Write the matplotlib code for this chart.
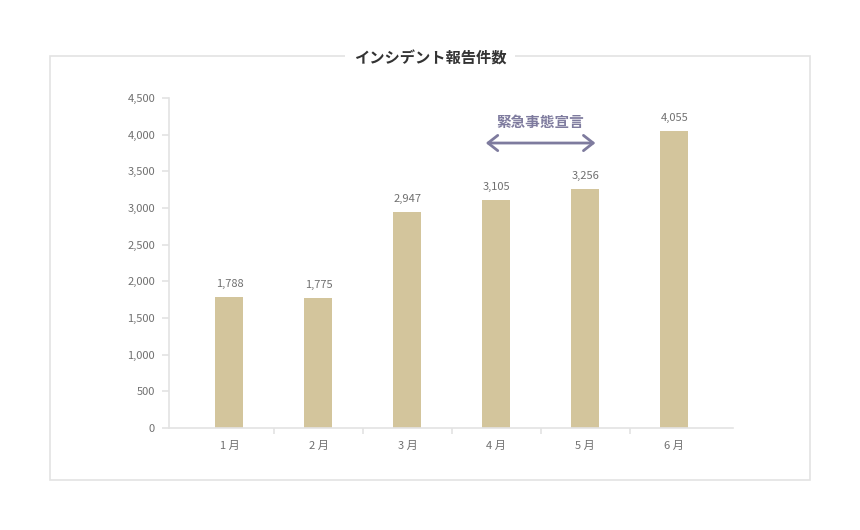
import matplotlib.pyplot as plt
from matplotlib.patches import Rectangle

plt.rcParams['font.family'] = ['Noto Sans CJK JP', 'DejaVu Sans']

months = ["1 月", "2 月", "3 月", "4 月", "5 月", "6 月"]
incidents = [1788, 1775, 2947, 3105, 3256, 4055]
yticks = [0, 500, 1000, 1500, 2000, 2500, 3000, 3500, 4000, 4500]

bar_color = "#D3C59C"
note_color = "#7E7B9E"
axis_color = "#E3E3E3"
text_color = "#707070"

fig = plt.figure(figsize=(8.6, 5.3), dpi=100)

# outer frame
fig.patches.append(Rectangle((0.0581, 0.0943), 0.8838, 0.8, transform=fig.transFigure,
                             fill=False, edgecolor=axis_color, linewidth=1.2))
fig.text(0.5, 0.889, "インシデント報告件数", ha="center", va="center", fontsize=11,
         fontweight="bold", color="#333333",
         bbox=dict(facecolor="white", edgecolor="none", pad=6))

ax = fig.add_axes([0.1965, 0.1925, 0.6558, 0.6226])
x = range(len(months))
ax.bar(x, incidents, width=0.315, color=bar_color)
for xi, v in zip(x, incidents):
    ax.text(xi, v + 110, f"{v:,}", ha="center", va="bottom", fontsize=8, color=text_color)

ax.set_xlim(-0.68, 5.66)
ax.set_ylim(0, 4500)
ax.set_yticks(yticks)
ax.set_yticklabels([f"{t:,}" for t in yticks])
ax.set_xticks(list(x))
ax.set_xticklabels(months)
ax.set_xticks([i + 0.5 for i in range(len(months) - 1)], minor=True)
ax.tick_params(axis="x", which="major", length=0, pad=9, labelsize=8, labelcolor=text_color)
ax.tick_params(axis="x", which="minor", length=4, color=axis_color, width=1.2)
ax.tick_params(axis="y", length=5, color=axis_color, width=1.2, pad=5, labelsize=8,
               labelcolor=text_color)
for side in ["top", "right"]:
    ax.spines[side].set_visible(False)
for side in ["left", "bottom"]:
    ax.spines[side].set_color(axis_color)
    ax.spines[side].set_linewidth(1.2)

# 緊急事態宣言 annotation
ax.annotate("", xy=(2.85, 3886), xytext=(4.145, 3886),
            arrowprops=dict(arrowstyle="<->,head_length=0.7,head_width=0.55",
                            color=note_color, lw=2))
ax.text(3.49, 4173, "緊急事態宣言", ha="center", va="center", fontsize=10.5,
        fontweight="bold", color=note_color)

fig.savefig("out.png", dpi=100)
